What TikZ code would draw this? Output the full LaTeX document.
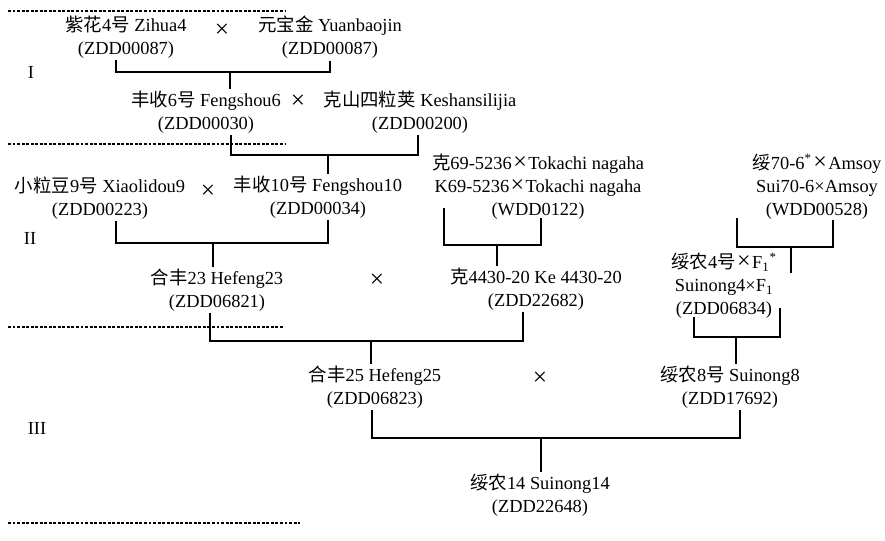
\documentclass[tikz,border=0pt]{standalone}
\usepackage{fontspec}
\setmainfont{Liberation Serif}
\newfontfamily\cjk{Noto Sans CJK SC}
\newcommand{\zh}[1]{{\cjk #1}}
\newcommand{\X}{\kern0.08em{\fontsize{18}{17}\selectfont ×}\kern0.08em}
\newdimen\PX \PX=0.75pt
\begin{document}
\begin{tikzpicture}[x=0.75pt, y=-0.75pt,
  lbl/.style={align=center, font=\fontsize{13.8}{17.25}\selectfont, inner sep=1.5pt},
  crs/.style={font=\fontsize{19}{19}\selectfont, inner sep=0pt},
  link/.style={line width=2.1pt},
  sepline/.style={line width=1.2pt, dash pattern=on 2.2pt off 1.2pt}]
\useasboundingbox (0,0) rectangle (885,540);
% level separators
\draw[sepline] (8,11) -- (286,11);
\draw[sepline] (8,144) -- (285,144);
\draw[sepline] (8,327) -- (283,327);
\draw[sepline] (8,523) -- (300,523);
% roman numerals
\node[lbl] (r1) at (31,72) {I};
\node[lbl] (r2) at (30,238) {II};
\node[lbl] (r3) at (37,428) {III};
% nodes
\node[lbl] (zihua) at (126,37) {\zh{紫花}4\zh{号} Zihua4\\(ZDD00087)};
\node[lbl] (yuan) at (330,37) {\zh{元宝金} Yuanbaojin\\(ZDD00087)};
\node[crs] (x1) at (222,31) {×};
\node[lbl] (feng6) at (206,112) {\zh{丰收}6\zh{号} Fengshou6\\(ZDD00030)};
\node[crs] (x2) at (298,102) {×};
\node[lbl] (kesh) at (420,112) {\zh{克山四粒荚} Keshansilijia\\(ZDD00200)};
\node[lbl] (xiao) at (100,198) {\zh{小粒豆}9\zh{号} Xiaolidou9\\(ZDD00223)};
\node[crs] (x3) at (208,192) {×};
\node[lbl] (feng10) at (318,197) {\zh{丰收}10\zh{号} Fengshou10\\(ZDD00034)};
\node[lbl] (k69) at (538,187) {\zh{克}69-5236\X Tokachi nagaha\\K69-5236\X Tokachi nagaha\\(WDD0122)};
\node[lbl] (sui70) at (817,187) {\zh{绥}70-6\textsuperscript{*}\X Amsoy\\Sui70-6×Amsoy\\(WDD00528)};
\node[lbl] (hefeng23) at (217,290) {\zh{合丰}23 Hefeng23\\(ZDD06821)};
\node[crs] (x4) at (377,281) {×};
\node[lbl] (ke4430) at (536,289) {\zh{克}4430-20 Ke 4430-20\\(ZDD22682)};
\node[lbl] (sn4) at (724,286) {\zh{绥农}4\zh{号}\X F\textsubscript{1}\textsuperscript{*}\\Suinong4×F\textsubscript{1}\\(ZDD06834)};
\node[lbl] (hefeng25) at (375,387) {\zh{合丰}25 Hefeng25\\(ZDD06823)};
\node[crs] (x5) at (540,379) {×};
\node[lbl] (sn8) at (730,387) {\zh{绥农}8\zh{号} Suinong8\\(ZDD17692)};
\node[lbl] (sn14) at (540,495) {\zh{绥农}14 Suinong14\\(ZDD22648)};
% junctions
\coordinate (j1) at (230,72);
\coordinate (j2) at (328,155);
\coordinate (j3) at (213,243);
\coordinate (j4) at (497,245);
\coordinate (j5) at (791,247);
\coordinate (e5) at (791,273);
\coordinate (j6) at (736,337);
\coordinate (j7) at (371,341);
\coordinate (j8) at (541,438);
% connectors
\draw[link] ([xshift=-10\PX]zihua.south) |- (j1) -| (yuan.south);
\draw[link] (j1) -- (j1 |- feng6.north);
\draw[link] ([xshift=25\PX]feng6.south) |- (j2) -| ([xshift=-2\PX]kesh.south);
\draw[link] (j2) -- (j2 |- feng10.north);
\draw[link] ([xshift=16\PX]xiao.south) |- (j3) -| ([xshift=10\PX]feng10.south);
\draw[link] (j3) -- (j3 |- hefeng23.north);
\draw[link] ([xshift=-94\PX,yshift=14\PX]k69.south) |- (j4) -| ([xshift=3\PX,yshift=4\PX]k69.south);
\draw[link] (j4) -- (j4 |- ke4430.north);
\draw[link] ([xshift=-80\PX,yshift=4\PX]sui70.south) |- (j5) -| ([xshift=16\PX,yshift=2\PX]sui70.south);
\draw[link] (j5) -- (e5);
\draw[link] ([xshift=-30\PX,yshift=4\PX]sn4.south) |- (j6) -| ([xshift=56\PX,yshift=13\PX]sn4.south);
\draw[link] (j6) -- (j6 |- sn8.north);
\draw[link] ([xshift=-7\PX]hefeng23.south) |- (j7) -| ([xshift=-13\PX]ke4430.south);
\draw[link] (j7) -- (j7 |- hefeng25.north);
\draw[link] ([xshift=-3\PX]hefeng25.south) |- (j8) -| ([xshift=10\PX]sn8.south);
\draw[link] (j8) -- (j8 |- sn14.north);
\end{tikzpicture}
\end{document}
